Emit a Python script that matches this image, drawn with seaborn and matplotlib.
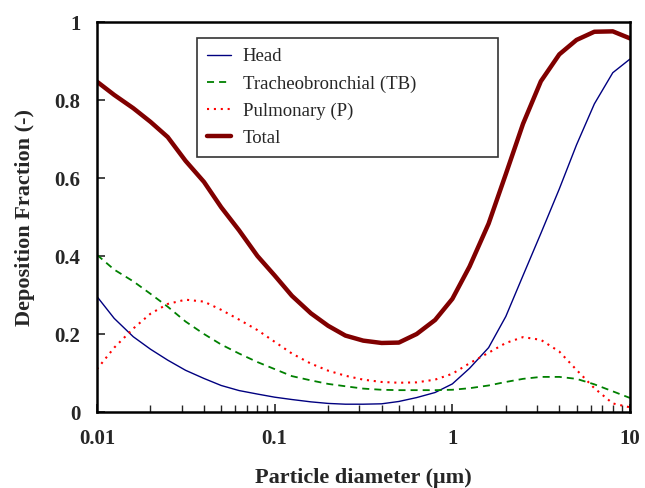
import matplotlib
matplotlib.use("Agg")
import matplotlib.pyplot as plt
import matplotlib.ticker as mticker
import numpy as np
import pandas as pd
import seaborn as sns

# particle diameters (um), tenth-decade steps from 0.01 to 10
diameter = [0.01, 0.0125, 0.016, 0.02, 0.025, 0.0315, 0.04, 0.05, 0.063, 0.08,
            0.1, 0.125, 0.16, 0.2, 0.25, 0.315, 0.4, 0.5, 0.63, 0.8,
            1, 1.25, 1.6, 2, 2.5, 3.15, 4, 5, 6.3, 8, 10]

head = [0.296, 0.240, 0.193, 0.161, 0.133, 0.107, 0.086, 0.068, 0.055, 0.046,
        0.038, 0.032, 0.026, 0.022, 0.020, 0.020, 0.021, 0.027, 0.037, 0.050,
        0.072, 0.112, 0.165, 0.245, 0.350, 0.458, 0.572, 0.685, 0.790, 0.870,
        0.905]

tb = [0.403, 0.365, 0.335, 0.303, 0.270, 0.232, 0.200, 0.173, 0.150, 0.128,
      0.110, 0.092, 0.081, 0.072, 0.066, 0.060, 0.057, 0.056, 0.056, 0.056,
      0.057, 0.061, 0.068, 0.077, 0.085, 0.090, 0.090, 0.085, 0.071, 0.053,
      0.036]

pulm = [0.110, 0.165, 0.214, 0.252, 0.277, 0.288, 0.283, 0.262, 0.237, 0.210,
        0.180, 0.150, 0.124, 0.106, 0.093, 0.083, 0.077, 0.075, 0.076, 0.083,
        0.098, 0.125, 0.152, 0.177, 0.192, 0.185, 0.155, 0.108, 0.061, 0.022,
        0.012]

total = [0.847, 0.813, 0.779, 0.744, 0.705, 0.644, 0.590, 0.525, 0.466, 0.400,
         0.350, 0.298, 0.253, 0.221, 0.196, 0.183, 0.177, 0.178, 0.200, 0.236,
         0.290, 0.373, 0.483, 0.610, 0.739, 0.848, 0.917, 0.954, 0.975, 0.976,
         0.958]

x_ticks = [0.01, 0.1, 1, 10]
x_ticklabels = ["0.01", "0.1", "1", "10"]
y_ticks = [0, 0.2, 0.4, 0.6, 0.8, 1]
y_ticklabels = ["0", "0.2", "0.4", "0.6", "0.8", "1"]

sns.set_style("ticks")
plt.rcParams["font.family"] = ["Liberation Serif", "DejaVu Serif"]

fig = plt.figure(figsize=(6.45, 4.88), dpi=100)
ax = fig.add_axes([97 / 645, 1 - 412 / 488, 533 / 645, 390 / 488])

series = [
    ("Head", head, "#000080", 1.0, "-"),
    ("Tracheobronchial (TB)", tb, "#008000", 1.3, (0, (3.9, 2.8))),
    ("Pulmonary (P)", pulm, "#ff0000", 1.5, (0, (1, 2.3))),
    ("Total", total, "#800000", 3.2, "-"),
]
for name, vals, col, lw, ls in series:
    df = pd.DataFrame({"d": diameter, "f": vals})
    sns.lineplot(data=df, x="d", y="f", ax=ax, color=col, lw=lw,
                 linestyle=ls, label=name)

ax.set_xscale("log")
ax.set_xlim(0.01, 10)
ax.set_ylim(0, 1)
ax.set_xticks(x_ticks)
ax.set_xticklabels(x_ticklabels)
ax.xaxis.set_minor_locator(mticker.LogLocator(base=10, subs=np.arange(2, 10)))
ax.xaxis.set_minor_formatter(mticker.NullFormatter())
ax.set_yticks(y_ticks)
ax.set_yticklabels(y_ticklabels)

ax.tick_params(axis="both", which="major", direction="in", length=6,
               width=1.2, labelsize=15, pad=12)
ax.tick_params(axis="x", which="minor", direction="in", length=5, width=1.0)
for lab in ax.get_xticklabels() + ax.get_yticklabels():
    lab.set_fontweight("bold")

for sp in ax.spines.values():
    sp.set_visible(True)
    sp.set_linewidth(1.8)
    sp.set_color("black")

ax.set_xlabel("Particle diameter (\u03bcm)", fontsize=16, fontweight="bold",
              labelpad=14)
ax.set_ylabel("Deposition Fraction (-)", fontsize=16, fontweight="bold",
              labelpad=14)

# legend box is wider than its text in the original (Excel style)
leg = ax.legend(loc="upper left", bbox_to_anchor=(0.1876, 0.0, 0.5647, 0.959),
                mode="expand", borderaxespad=0, fontsize=13.5, frameon=True,
                fancybox=False, handlelength=1.25, handletextpad=0.65,
                labelspacing=0.53, borderpad=0.55)
leg.get_frame().set_edgecolor("#333333")
leg.get_frame().set_linewidth(1.2)
leg.get_frame().set_alpha(1)

fig.savefig("out.png", dpi=100)
